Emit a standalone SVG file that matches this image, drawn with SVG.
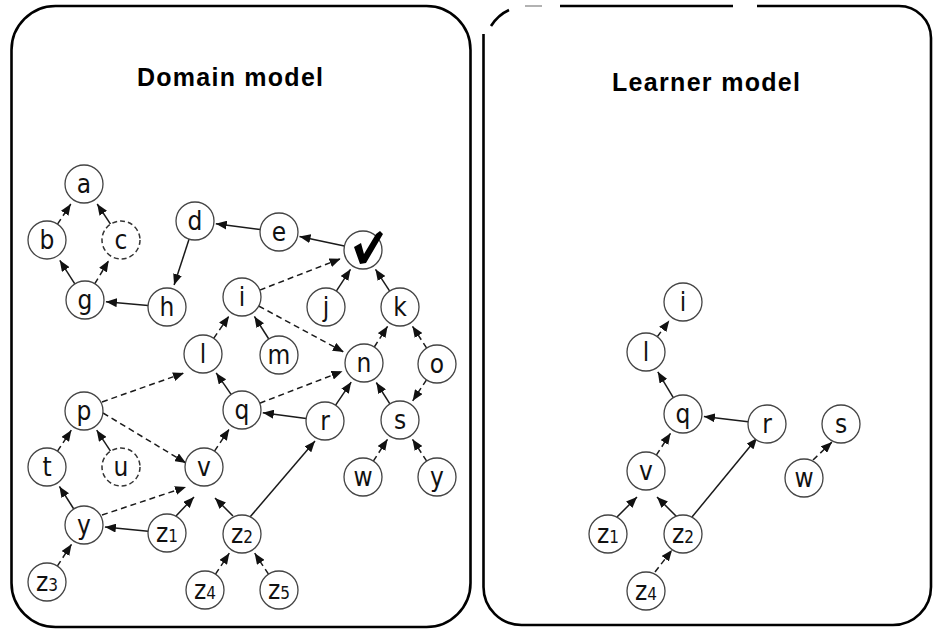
<svg xmlns="http://www.w3.org/2000/svg" width="934" height="630" viewBox="0 0 934 630">
<defs>
<marker id="ah" viewBox="0 0 11 9" refX="11" refY="4.5" markerWidth="11" markerHeight="9" markerUnits="userSpaceOnUse" orient="auto">
<path d="M0,0 L11,4.5 L0,9 Z" fill="#111"/>
</marker>
</defs>
<style>
.panel{fill:none;stroke:#000;stroke-width:2.6}
.nd{fill:#fff;stroke:#444;stroke-width:1.3}
.ndd{fill:#fff;stroke:#333;stroke-width:1.5;stroke-dasharray:5 3}
.lb{font-family:"DejaVu Sans Condensed","DejaVu Sans",sans-serif;font-size:26px;text-anchor:middle;fill:#111}
.sub{font-size:17px}
.e{stroke:#1a1a1a;stroke-width:1.5;fill:none;marker-end:url(#ah)}
.d{stroke-dasharray:6 4}
.ttl{font-family:"Liberation Sans",Arial,sans-serif;font-weight:bold;font-size:25px;text-anchor:middle;fill:#000}
</style>
<rect width="934" height="630" fill="#fff"/>
<g id="panels">
<rect class="panel" x="11.5" y="6" width="459" height="621" rx="44" ry="44"/>
<path class="panel" d="M757,6 L899,6 A32,32 0 0 1 931,38 L931,587 A38,38 0 0 1 893,625 L521.5,625 A38,38 0 0 1 483.5,587 L483.5,34"/>
<path class="panel" d="M491,26 Q498,15 509,10"/>
<path class="panel" d="M560,6 L733,6"/>
<path d="M525,6 L542,6" stroke="#999" stroke-width="1.5"/>
<text class="ttl" x="230" y="86" textLength="186" lengthAdjust="spacing">Domain model</text>
<text class="ttl" x="706" y="91" textLength="188" lengthAdjust="spacing">Learner model</text>
</g>
<g id="connectors">
<line class="e d" x1="57.5" y1="224.1" x2="70.8" y2="204"/>
<line class="e" x1="110.5" y1="224.1" x2="97.2" y2="204"/>
<line class="e" x1="74.8" y1="283.9" x2="59.8" y2="260.3"/>
<line class="e d" x1="94.8" y1="283.7" x2="108.7" y2="260.6"/>
<line class="e" x1="148.1" y1="305.4" x2="105.9" y2="301.8"/>
<line class="e" x1="189.1" y1="239.1" x2="174.1" y2="285.1"/>
<line class="e" x1="260.2" y1="229.5" x2="215.8" y2="223.7"/>
<line class="e" x1="344.4" y1="246" x2="299.5" y2="236.4"/>
<line class="e d" x1="259.7" y1="290.1" x2="340.6" y2="258.7"/>
<line class="e" x1="336.3" y1="291.1" x2="350.5" y2="269.3"/>
<line class="e" x1="389.7" y1="291.1" x2="375.5" y2="269.3"/>
<line class="e d" x1="258.7" y1="306" x2="343.8" y2="352.1"/>
<line class="e" x1="268.8" y1="339" x2="254.4" y2="316.4"/>
<line class="e d" x1="213.7" y1="338.3" x2="229" y2="316"/>
<line class="e d" x1="374.3" y1="347" x2="387.6" y2="326.3"/>
<line class="e d" x1="426.7" y1="348.1" x2="412.5" y2="326.3"/>
<line class="e d" x1="426.5" y1="379.8" x2="412.7" y2="400.8"/>
<line class="e" x1="231.1" y1="394.4" x2="216.2" y2="372.9"/>
<line class="e d" x1="259.7" y1="403.2" x2="342.5" y2="371.3"/>
<line class="e" x1="335.6" y1="405.2" x2="351.2" y2="382.1"/>
<line class="e" x1="389.9" y1="403.9" x2="376.3" y2="382.5"/>
<line class="e" x1="306.2" y1="418.5" x2="262.8" y2="412.8"/>
<line class="e d" x1="373.3" y1="461.1" x2="387.5" y2="439.3"/>
<line class="e d" x1="426.7" y1="461.1" x2="412.5" y2="439.3"/>
<line class="e d" x1="102" y1="402" x2="184" y2="373"/>
<line class="e d" x1="103" y1="413" x2="186" y2="463"/>
<line class="e d" x1="57.5" y1="451.2" x2="71.3" y2="430.2"/>
<line class="e" x1="110.5" y1="451.2" x2="96.7" y2="430.2"/>
<line class="e" x1="73.8" y1="509" x2="59.4" y2="486.4"/>
<line class="e d" x1="102" y1="515" x2="186" y2="487"/>
<line class="e" x1="148.1" y1="531.2" x2="104.9" y2="527"/>
<line class="e" x1="176" y1="516" x2="194" y2="497"/>
<line class="e" x1="233" y1="516" x2="215" y2="498"/>
<line class="e" x1="250" y1="517" x2="315" y2="441"/>
<line class="e d" x1="214.5" y1="451.2" x2="229.2" y2="429.1"/>
<line class="e d" x1="57.3" y1="566.1" x2="71.5" y2="544.3"/>
<line class="e d" x1="215.5" y1="574.2" x2="229.3" y2="553.2"/>
<line class="e d" x1="268.5" y1="574.2" x2="254.7" y2="553.2"/>
<line class="e d" x1="657.3" y1="336.7" x2="669.3" y2="320.5"/>
<line class="e" x1="673.3" y1="397.7" x2="657.8" y2="371.8"/>
<line class="e" x1="748.1" y1="421.8" x2="703.9" y2="416.5"/>
<line class="e d" x1="656.3" y1="455.1" x2="670.5" y2="433.3"/>
<line class="e" x1="617" y1="517" x2="637" y2="497"/>
<line class="e" x1="677" y1="517" x2="657" y2="497"/>
<line class="e" x1="692" y1="517" x2="757" y2="438"/>
<line class="e d" x1="655" y1="572" x2="672" y2="550"/>
<line class="e d" x1="813" y1="460" x2="832" y2="442"/>
</g>
<g id="n-a"><circle class="nd" cx="84" cy="184" r="19"/><text class="lb" x="84" y="193">a</text></g>
<g id="n-b"><circle class="nd" cx="47" cy="240" r="19"/><text class="lb" x="47" y="249">b</text></g>
<g id="n-c"><circle class="ndd" cx="121" cy="240" r="19"/><text class="lb" x="121" y="249">c</text></g>
<g id="n-g"><circle class="nd" cx="85" cy="300" r="19"/><text class="lb" x="85" y="309">g</text></g>
<g id="n-h"><circle class="nd" cx="167" cy="307" r="19"/><text class="lb" x="167" y="316">h</text></g>
<g id="n-d"><circle class="nd" cx="195" cy="221" r="19"/><text class="lb" x="195" y="230">d</text></g>
<g id="n-e"><circle class="nd" cx="279" cy="232" r="19"/><text class="lb" x="279" y="241">e</text></g>
<g id="n-check"><circle class="nd" cx="363" cy="250" r="19"/><path d="M354,247 L361,243 L364,254 L376,234 L380,231 L383,234 L366,263 L360,264 Z" fill="#000"/></g>
<g id="n-i"><circle class="nd" cx="242" cy="297" r="19"/><text class="lb" x="242" y="306">i</text></g>
<g id="n-j"><circle class="nd" cx="326" cy="307" r="19"/><text class="lb" x="326" y="316">j</text></g>
<g id="n-k"><circle class="nd" cx="400" cy="307" r="19"/><text class="lb" x="400" y="316">k</text></g>
<g id="n-l"><circle class="nd" cx="203" cy="354" r="19"/><text class="lb" x="203" y="363">l</text></g>
<g id="n-m"><circle class="nd" cx="279" cy="355" r="19"/><text class="lb" x="279" y="364">m</text></g>
<g id="n-n"><circle class="nd" cx="364" cy="363" r="19"/><text class="lb" x="364" y="372">n</text></g>
<g id="n-o"><circle class="nd" cx="437" cy="364" r="19"/><text class="lb" x="437" y="373">o</text></g>
<g id="n-p"><circle class="nd" cx="84" cy="411" r="19"/><text class="lb" x="84" y="420">p</text></g>
<g id="n-q"><circle class="nd" cx="242" cy="410" r="19"/><text class="lb" x="242" y="419">q</text></g>
<g id="n-r"><circle class="nd" cx="325" cy="421" r="19"/><text class="lb" x="325" y="430">r</text></g>
<g id="n-s"><circle class="nd" cx="400" cy="420" r="19"/><text class="lb" x="400" y="429">s</text></g>
<g id="n-t"><circle class="nd" cx="47" cy="467" r="19"/><text class="lb" x="47" y="476">t</text></g>
<g id="n-u"><circle class="ndd" cx="121" cy="467" r="19"/><text class="lb" x="121" y="476">u</text></g>
<g id="n-v"><circle class="nd" cx="204" cy="467" r="19"/><text class="lb" x="204" y="476">v</text></g>
<g id="n-w"><circle class="nd" cx="363" cy="477" r="19"/><text class="lb" x="363" y="486">w</text></g>
<g id="n-y2"><circle class="nd" cx="437" cy="477" r="19"/><text class="lb" x="437" y="486">y</text></g>
<g id="n-y"><circle class="nd" cx="84" cy="525" r="19"/><text class="lb" x="84" y="534">y</text></g>
<g id="n-z1"><circle class="nd" cx="167" cy="533" r="19"/><text class="lb" x="167" y="542">z<tspan class="sub">1</tspan></text></g>
<g id="n-z2"><circle class="nd" cx="242" cy="534" r="19"/><text class="lb" x="242" y="543">z<tspan class="sub">2</tspan></text></g>
<g id="n-z3"><circle class="nd" cx="47" cy="582" r="19"/><text class="lb" x="47" y="591">z<tspan class="sub">3</tspan></text></g>
<g id="n-z4"><circle class="nd" cx="205" cy="590" r="19"/><text class="lb" x="205" y="599">z<tspan class="sub">4</tspan></text></g>
<g id="n-z5"><circle class="nd" cx="279" cy="590" r="19"/><text class="lb" x="279" y="599">z<tspan class="sub">5</tspan></text></g>
<g id="L-i"><circle class="nd" cx="683" cy="302" r="19"/><text class="lb" x="683" y="311">i</text></g>
<g id="L-l"><circle class="nd" cx="646" cy="352" r="19"/><text class="lb" x="646" y="361">l</text></g>
<g id="L-q"><circle class="nd" cx="683" cy="414" r="19"/><text class="lb" x="683" y="423">q</text></g>
<g id="L-r"><circle class="nd" cx="767" cy="424" r="19"/><text class="lb" x="767" y="433">r</text></g>
<g id="L-s"><circle class="nd" cx="841" cy="424" r="19"/><text class="lb" x="841" y="433">s</text></g>
<g id="L-v"><circle class="nd" cx="646" cy="471" r="19"/><text class="lb" x="646" y="480">v</text></g>
<g id="L-w"><circle class="nd" cx="804" cy="478" r="19"/><text class="lb" x="804" y="487">w</text></g>
<g id="L-z1"><circle class="nd" cx="608" cy="534" r="19"/><text class="lb" x="608" y="543">z<tspan class="sub">1</tspan></text></g>
<g id="L-z2"><circle class="nd" cx="683" cy="534" r="19"/><text class="lb" x="683" y="543">z<tspan class="sub">2</tspan></text></g>
<g id="L-z4"><circle class="nd" cx="646" cy="591" r="19"/><text class="lb" x="646" y="600">z<tspan class="sub">4</tspan></text></g>
</svg>
